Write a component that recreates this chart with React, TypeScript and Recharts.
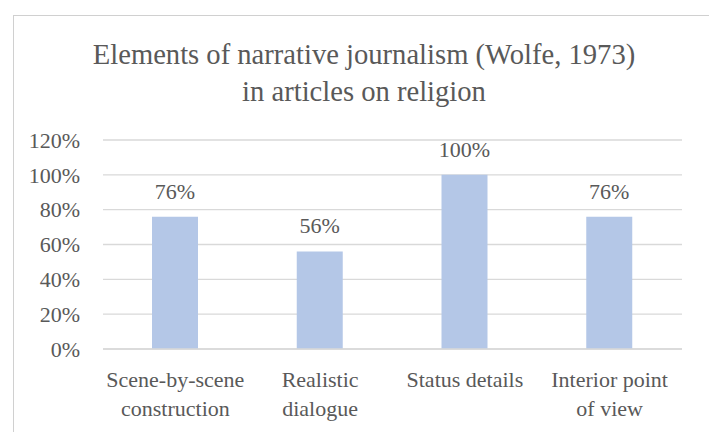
import React from "react";
import { BarChart, Bar, XAxis, YAxis, CartesianGrid, LabelList } from "recharts";

const categories = ["Scene-by-scene construction", "Realistic dialogue", "Status details", "Interior point of view"];
const categoryLines = [["Scene-by-scene", "construction"], ["Realistic", "dialogue"], ["Status details"], ["Interior point", "of view"]];
const values = [0.76, 0.56, 1.0, 0.76];
const yTicks = [0, 0.2, 0.4, 0.6, 0.8, 1.0, 1.2];
const titleLines = ["Elements of narrative journalism (Wolfe, 1973)", "in articles on religion"];

const data = categories.map((c, i) => ({ name: c, value: values[i], idx: i }));

const FONT = "'Liberation Serif', serif";
const TEXT = "#595959";

const pct = (v: number) => `${Math.round(v * 100)}%`;

const XTick = (props: any) => {
  const { x, y, payload } = props;
  const idx = categories.indexOf(payload.value);
  const lines = idx >= 0 ? categoryLines[idx] : [String(payload.value)];
  return (
    <text x={x} y={y} textAnchor="middle" fill={TEXT} fontFamily={FONT} fontSize={22}>
      {lines.map((l, i) => (
        <tspan key={i} x={x} dy={i === 0 ? 38 : 29}>{l}</tspan>
      ))}
    </text>
  );
};

export default function App() {
  return (
    <div style={{ position: "absolute", left: 0, top: 0, width: 709, height: 432, background: "#fff", overflow: "hidden" }}>
      <div style={{ position: "absolute", left: 13, top: 15, width: 720, height: 440, border: "1px solid #D0D0D0", boxSizing: "border-box" }} />
      <svg style={{ position: "absolute", left: 0, top: 0 }} width={709} height={130}>
        {titleLines.map((t, i) => (
          <text key={i} x={364} y={64 + i * 37} textAnchor="middle" fill={TEXT} fontFamily={FONT} fontSize={28.6}>{t}</text>
        ))}
      </svg>
      <div style={{ position: "absolute", left: 0, top: 0 }}>
        <BarChart width={709} height={432} data={data} margin={{ top: 140, right: 27, left: 43, bottom: 0 }} barSize={46}>
          <CartesianGrid vertical={false} stroke="#D9D9D9" strokeWidth={1.3} />
          <XAxis
            dataKey="name"
            interval={0}
            tickLine={false}
            tickSize={0}
            tickMargin={0}
            axisLine={{ stroke: "#D9D9D9", strokeWidth: 1.3 }}
            tick={<XTick />}
            height={83}
          />
          <YAxis
            domain={[0, 1.2]}
            ticks={yTicks}
            interval={0}
            tickFormatter={pct}
            axisLine={false}
            tickLine={false}
            tickSize={0}
            tickMargin={23}
            width={60}
            tick={{ fill: TEXT, fontFamily: FONT, fontSize: 22 }}
          />
          <Bar dataKey="value" fill="#B4C7E7" isAnimationActive={false}>
            <LabelList dataKey="value" position="top" offset={18} formatter={(v: any) => pct(Number(v))} fill={TEXT} fontFamily={FONT} fontSize={22} />
          </Bar>
        </BarChart>
      </div>
    </div>
  );
}
